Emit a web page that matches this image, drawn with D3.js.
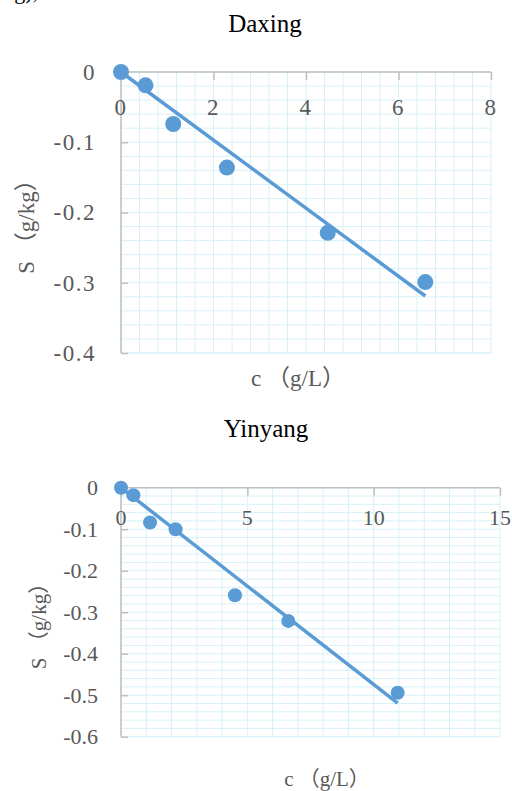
<!DOCTYPE html>
<html lang="en">
<head>
    <meta charset="UTF-8">
    <title>Daxing / Yinyang</title>
    <style>
        body { margin: 0; background: #fff; }
        text { font-family: "Liberation Serif", "Noto Sans CJK SC", serif; }
    </style>
</head>
<body>
    <div class="canvas"></div>

    <script src="https://cdnjs.cloudflare.com/ajax/libs/d3/7.8.5/d3.min.js"></script>
    <script>
        // Daxing
        const daxingC = [0, 0.53, 1.13, 2.29, 4.47, 6.58];
        const daxingS = [0, -0.019, -0.074, -0.136, -0.229, -0.299];
        const daxingXTicks = [0, 2, 4, 6, 8];
        const daxingYTicks = [0, -0.1, -0.2, -0.3, -0.4];

        // Yinyang
        const yinyangC = [0, 0.49, 1.15, 2.16, 4.51, 6.62, 10.95];
        const yinyangS = [0, -0.018, -0.084, -0.1, -0.259, -0.321, -0.494];
        const yinyangXTicks = [0, 5, 10, 15];
        const yinyangYTicks = [0, -0.1, -0.2, -0.3, -0.4, -0.5, -0.6];

        const blue = "#5b9bd5";
        const gridColor = "#d6f2f8";
        const axisColor = "#bfbfbf";
        const labelColor = "#595959";

        const svg = d3.select(".canvas").append("svg")
            .attr("width", 512)
            .attr("height", 791);

        // clipped bit of text from the page above
        svg.append("text")
            .attr("x", 38).attr("y", -1)
            .attr("text-anchor", "end")
            .attr("font-size", 22)
            .attr("fill", "#000")
            .text("(g/kg),");

        function drawChart(o) {
            const pts = o.c.map((c, i) => ({ c: c, s: o.s[i] }));
            const x = d3.scaleLinear().domain(o.xDomain).range(o.xRange);
            const y = d3.scaleLinear().domain(o.yDomain).range(o.yRange);
            const g = svg.append("g");

            // minor grid
            g.selectAll(".vg")
                .data(d3.range(o.xDomain[0], o.xDomain[1] + 1e-9, o.xMinor))
                .join("line")
                    .attr("x1", d => x(d)).attr("x2", d => x(d))
                    .attr("y1", o.yRange[0]).attr("y2", o.yRange[1])
                    .attr("stroke", gridColor).attr("stroke-width", 1);
            g.selectAll(".hg")
                .data(d3.range(0, o.yDomain[1] - 1e-9, -o.yMinor).concat([o.yDomain[1]]))
                .join("line")
                    .attr("y1", d => y(d)).attr("y2", d => y(d))
                    .attr("x1", o.xRange[0]).attr("x2", o.xRange[1])
                    .attr("stroke", gridColor).attr("stroke-width", 1);

            // axes (ticks inside)
            const xAxis = d3.axisBottom(x).tickValues(o.xTicks).tickSize(8).tickFormat("");
            const yAxis = d3.axisRight(y).tickValues(o.yTicks).tickSize(7).tickFormat("");
            const ax = g.append("g").attr("transform", `translate(0,${y(0)})`).call(xAxis);
            const ay = g.append("g").attr("transform", `translate(${x(0)},0)`).call(yAxis);
            [ax, ay].forEach(a => {
                a.selectAll("path").attr("stroke", axisColor).attr("stroke-width", 1.5);
                a.selectAll("line").attr("stroke", axisColor).attr("stroke-width", 1.5);
            });
            ax.select("path").attr("d", `M${o.xRange[0]},0H${o.xRange[1]}`);
            ay.select("path").attr("d", `M0,${o.yRange[0]}V${o.yRange[1]}`);

            // tick labels
            g.selectAll(".xl")
                .data(o.xTicks)
                .join("text")
                    .attr("x", d => x(d))
                    .attr("y", o.xLabelY)
                    .attr("text-anchor", "middle")
                    .attr("font-size", o.tickFont)
                    .attr("letter-spacing", o.tickSpacing)
                    .attr("fill", labelColor)
                    .text(d => d);
            g.selectAll(".yl")
                .data(o.yTicks)
                .join("text")
                    .attr("x", o.yLabelX)
                    .attr("y", d => y(d))
                    .attr("dy", "0.34em")
                    .attr("text-anchor", "end")
                    .attr("font-size", o.tickFont)
                    .attr("letter-spacing", o.tickSpacing)
                    .attr("fill", labelColor)
                    .text(d => d === 0 ? "0" : d3.format(".1f")(d).replace("−", "-"));

            // titles
            g.append("text")
                .attr("x", o.titleX).attr("y", o.titleY)
                .attr("text-anchor", "middle")
                .attr("font-size", o.titleFont)
                .attr("fill", "#000")
                .text(o.title);
            g.append("text")
                .attr("x", o.xTitleX).attr("y", o.xTitleY)
                .attr("text-anchor", "middle")
                .attr("font-size", o.axisFont)
                .attr("fill", labelColor)
                .text("c （g/L）");
            g.append("text")
                .attr("transform", `translate(${o.yTitleX},${o.yTitleY}) rotate(-90)`)
                .attr("text-anchor", "middle")
                .attr("dy", "0.34em")
                .attr("font-size", o.axisFont)
                .attr("fill", labelColor)
                .text("S （g/kg）");

            // linear trendline through the origin
            const k = d3.sum(pts, p => p.c * p.s) / d3.sum(pts, p => p.c * p.c);
            const xMax = d3.max(pts, p => p.c);
            g.append("line")
                .attr("x1", x(0)).attr("y1", y(0))
                .attr("x2", x(xMax)).attr("y2", y(k * xMax))
                .attr("stroke", blue)
                .attr("stroke-width", 3.5);

            g.selectAll(".pt")
                .data(pts)
                .join("circle")
                    .attr("cx", d => x(d.c))
                    .attr("cy", d => y(d.s))
                    .attr("r", o.r)
                    .attr("fill", blue);
        }

        drawChart({
            title: "Daxing", c: daxingC, s: daxingS,
            xTicks: daxingXTicks, yTicks: daxingYTicks,
            xDomain: [0, 8], yDomain: [0, -0.4],
            xRange: [121, 491], yRange: [72, 353],
            xMinor: 0.4, yMinor: 0.02,
            xLabelY: 115, yLabelX: 96,
            tickFont: 23, tickSpacing: 1.5,
            titleX: 265, titleY: 32, titleFont: 25,
            xTitleX: 298, xTitleY: 386, yTitleX: 26, yTitleY: 221, axisFont: 23,
            r: 8
        });

        drawChart({
            title: "Yinyang", c: yinyangC, s: yinyangS,
            xTicks: yinyangXTicks, yTicks: yinyangYTicks,
            xDomain: [0, 15], yDomain: [0, -0.6],
            xRange: [121, 500], yRange: [487.7, 736.7],
            xMinor: 1, yMinor: 0.02,
            xLabelY: 525, yLabelX: 98,
            tickFont: 22, tickSpacing: 0,
            titleX: 266, titleY: 437, titleFont: 25,
            xTitleX: 327, xTitleY: 786, yTitleX: 39, yTitleY: 621, axisFont: 21,
            r: 7
        });
    </script>
</body>
</html>
